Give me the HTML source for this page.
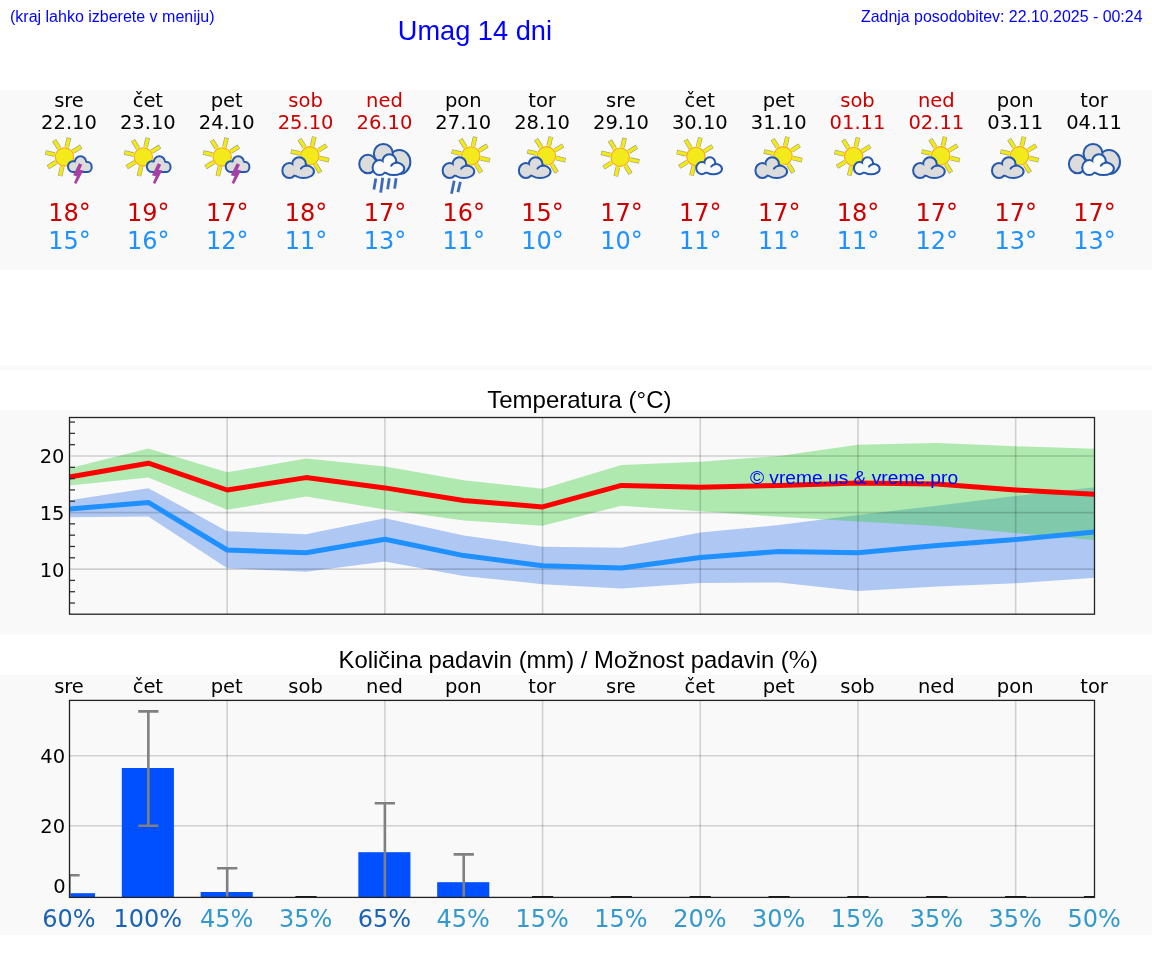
<!DOCTYPE html><html><head><meta charset="utf-8"><title>Umag 14 dni</title><style>html,body{margin:0;padding:0;background:#fff;}body{width:1152px;height:975px;overflow:hidden;position:relative;}svg{position:absolute;left:0;top:0;display:block;will-change:transform}.ls{font-family:"Liberation Sans",Arial,sans-serif}.dj{font-family:"DejaVu Sans",sans-serif}</style></head><body><svg width="1152" height="975" viewBox="0 0 1152 975"><text class="ls" x="10" y="22" font-size="16" fill="#0000ff">(kraj lahko izberete v meniju)</text><text class="ls" x="397.8" y="39.5" font-size="27.2" fill="#0000ff">Umag 14 dni</text><text class="ls" x="861" y="22" font-size="15.93" fill="#0000ff">Zadnja posodobitev: 22.10.2025 - 00:24</text><rect x="0" y="90" width="1152" height="180" fill="#f9f9f9"/><rect x="0" y="365" width="1152" height="5" fill="#f9f9f9"/><rect x="0" y="410" width="1152" height="225" fill="#f9f9f9"/><rect x="0" y="675" width="1152" height="260" fill="#f9f9f9"/><text class="dj" x="69.00" y="107" font-size="19.5" fill="#000" text-anchor="middle">sre</text><text class="dj" x="69.00" y="129" font-size="19.5" fill="#000" text-anchor="middle">22.10</text><text class="dj" x="69.50" y="221" font-size="24" fill="#cc0000" text-anchor="middle">18°</text><text class="dj" x="69.50" y="249" font-size="24" fill="#1e90ff" text-anchor="middle">15°</text><line x1="66.79" y1="146.96" x2="68.91" y2="137.80" stroke="#a0a088" stroke-width="4.6"/><line x1="59.09" y1="148.25" x2="54.11" y2="140.28" stroke="#a0a088" stroke-width="4.6"/><line x1="54.56" y1="154.61" x2="45.40" y2="152.49" stroke="#a0a088" stroke-width="4.6"/><line x1="55.85" y1="162.31" x2="47.88" y2="167.29" stroke="#a0a088" stroke-width="4.6"/><line x1="62.21" y1="166.84" x2="60.09" y2="176.00" stroke="#a0a088" stroke-width="4.6"/><line x1="73.15" y1="151.49" x2="81.12" y2="146.51" stroke="#a0a088" stroke-width="4.6"/><line x1="66.64" y1="147.64" x2="68.80" y2="138.29" stroke="#f2ea12" stroke-width="3.3"/><line x1="59.47" y1="148.84" x2="54.38" y2="140.70" stroke="#f2ea12" stroke-width="3.3"/><line x1="55.24" y1="154.76" x2="45.89" y2="152.60" stroke="#f2ea12" stroke-width="3.3"/><line x1="56.44" y1="161.93" x2="48.30" y2="167.02" stroke="#f2ea12" stroke-width="3.3"/><line x1="62.36" y1="166.16" x2="60.20" y2="175.51" stroke="#f2ea12" stroke-width="3.3"/><line x1="72.56" y1="151.87" x2="80.70" y2="146.78" stroke="#f2ea12" stroke-width="3.3"/><circle cx="64.50" cy="156.90" r="9.2" fill="#f2ea1a" stroke="#f6a623" stroke-width="1.1"/><path d="M69.00,166.55a4.00,4.35 0 1,1 8.00,0a4.00,4.35 0 1,1 -8.00,0ZM75.80,162.00a4.70,4.70 0 1,1 9.40,0a4.70,4.70 0 1,1 -9.40,0ZM84.70,167.00a3.00,3.90 0 1,1 6.00,0a3.00,3.90 0 1,1 -6.00,0ZM73.00,166.30h14.70v4.60h-14.70Z" fill="#2458ad" stroke="#2458ad" stroke-width="4" stroke-linejoin="round"/><path d="M69.00,166.55a4.00,4.35 0 1,1 8.00,0a4.00,4.35 0 1,1 -8.00,0ZM75.80,162.00a4.70,4.70 0 1,1 9.40,0a4.70,4.70 0 1,1 -9.40,0ZM84.70,167.00a3.00,3.90 0 1,1 6.00,0a3.00,3.90 0 1,1 -6.00,0ZM73.00,166.30h14.70v4.60h-14.70ZM72.50,165.80a8.00,4.50 0 1,1 16.00,0a8.00,4.50 0 1,1 -16.00,0Z" fill="#dcdcdc"/><polygon points="79.00,163.30 82.30,164.80 79.90,169.80 83.40,170.60 76.30,183.90 74.00,182.80 76.80,176.20 73.10,175.30" fill="#a541a3"/><text class="dj" x="147.85" y="107" font-size="19.5" fill="#000" text-anchor="middle">čet</text><text class="dj" x="147.85" y="129" font-size="19.5" fill="#000" text-anchor="middle">23.10</text><text class="dj" x="148.35" y="221" font-size="24" fill="#cc0000" text-anchor="middle">19°</text><text class="dj" x="148.35" y="249" font-size="24" fill="#1e90ff" text-anchor="middle">16°</text><line x1="145.64" y1="146.96" x2="147.76" y2="137.80" stroke="#a0a088" stroke-width="4.6"/><line x1="137.94" y1="148.25" x2="132.96" y2="140.28" stroke="#a0a088" stroke-width="4.6"/><line x1="133.41" y1="154.61" x2="124.25" y2="152.49" stroke="#a0a088" stroke-width="4.6"/><line x1="134.70" y1="162.31" x2="126.73" y2="167.29" stroke="#a0a088" stroke-width="4.6"/><line x1="141.06" y1="166.84" x2="138.94" y2="176.00" stroke="#a0a088" stroke-width="4.6"/><line x1="152.00" y1="151.49" x2="159.97" y2="146.51" stroke="#a0a088" stroke-width="4.6"/><line x1="145.49" y1="147.64" x2="147.65" y2="138.29" stroke="#f2ea12" stroke-width="3.3"/><line x1="138.32" y1="148.84" x2="133.23" y2="140.70" stroke="#f2ea12" stroke-width="3.3"/><line x1="134.09" y1="154.76" x2="124.74" y2="152.60" stroke="#f2ea12" stroke-width="3.3"/><line x1="135.29" y1="161.93" x2="127.15" y2="167.02" stroke="#f2ea12" stroke-width="3.3"/><line x1="141.21" y1="166.16" x2="139.05" y2="175.51" stroke="#f2ea12" stroke-width="3.3"/><line x1="151.41" y1="151.87" x2="159.55" y2="146.78" stroke="#f2ea12" stroke-width="3.3"/><circle cx="143.35" cy="156.90" r="9.2" fill="#f2ea1a" stroke="#f6a623" stroke-width="1.1"/><path d="M147.85,166.55a4.00,4.35 0 1,1 8.00,0a4.00,4.35 0 1,1 -8.00,0ZM154.65,162.00a4.70,4.70 0 1,1 9.40,0a4.70,4.70 0 1,1 -9.40,0ZM163.55,167.00a3.00,3.90 0 1,1 6.00,0a3.00,3.90 0 1,1 -6.00,0ZM151.85,166.30h14.70v4.60h-14.70Z" fill="#2458ad" stroke="#2458ad" stroke-width="4" stroke-linejoin="round"/><path d="M147.85,166.55a4.00,4.35 0 1,1 8.00,0a4.00,4.35 0 1,1 -8.00,0ZM154.65,162.00a4.70,4.70 0 1,1 9.40,0a4.70,4.70 0 1,1 -9.40,0ZM163.55,167.00a3.00,3.90 0 1,1 6.00,0a3.00,3.90 0 1,1 -6.00,0ZM151.85,166.30h14.70v4.60h-14.70ZM151.35,165.80a8.00,4.50 0 1,1 16.00,0a8.00,4.50 0 1,1 -16.00,0Z" fill="#dcdcdc"/><polygon points="157.85,163.30 161.15,164.80 158.75,169.80 162.25,170.60 155.15,183.90 152.85,182.80 155.65,176.20 151.95,175.30" fill="#a541a3"/><text class="dj" x="226.70" y="107" font-size="19.5" fill="#000" text-anchor="middle">pet</text><text class="dj" x="226.70" y="129" font-size="19.5" fill="#000" text-anchor="middle">24.10</text><text class="dj" x="227.20" y="221" font-size="24" fill="#cc0000" text-anchor="middle">17°</text><text class="dj" x="227.20" y="249" font-size="24" fill="#1e90ff" text-anchor="middle">12°</text><line x1="224.49" y1="146.96" x2="226.61" y2="137.80" stroke="#a0a088" stroke-width="4.6"/><line x1="216.79" y1="148.25" x2="211.81" y2="140.28" stroke="#a0a088" stroke-width="4.6"/><line x1="212.26" y1="154.61" x2="203.10" y2="152.49" stroke="#a0a088" stroke-width="4.6"/><line x1="213.55" y1="162.31" x2="205.58" y2="167.29" stroke="#a0a088" stroke-width="4.6"/><line x1="219.91" y1="166.84" x2="217.79" y2="176.00" stroke="#a0a088" stroke-width="4.6"/><line x1="230.85" y1="151.49" x2="238.82" y2="146.51" stroke="#a0a088" stroke-width="4.6"/><line x1="224.34" y1="147.64" x2="226.50" y2="138.29" stroke="#f2ea12" stroke-width="3.3"/><line x1="217.17" y1="148.84" x2="212.08" y2="140.70" stroke="#f2ea12" stroke-width="3.3"/><line x1="212.94" y1="154.76" x2="203.59" y2="152.60" stroke="#f2ea12" stroke-width="3.3"/><line x1="214.14" y1="161.93" x2="206.00" y2="167.02" stroke="#f2ea12" stroke-width="3.3"/><line x1="220.06" y1="166.16" x2="217.90" y2="175.51" stroke="#f2ea12" stroke-width="3.3"/><line x1="230.26" y1="151.87" x2="238.40" y2="146.78" stroke="#f2ea12" stroke-width="3.3"/><circle cx="222.20" cy="156.90" r="9.2" fill="#f2ea1a" stroke="#f6a623" stroke-width="1.1"/><path d="M226.70,166.55a4.00,4.35 0 1,1 8.00,0a4.00,4.35 0 1,1 -8.00,0ZM233.50,162.00a4.70,4.70 0 1,1 9.40,0a4.70,4.70 0 1,1 -9.40,0ZM242.40,167.00a3.00,3.90 0 1,1 6.00,0a3.00,3.90 0 1,1 -6.00,0ZM230.70,166.30h14.70v4.60h-14.70Z" fill="#2458ad" stroke="#2458ad" stroke-width="4" stroke-linejoin="round"/><path d="M226.70,166.55a4.00,4.35 0 1,1 8.00,0a4.00,4.35 0 1,1 -8.00,0ZM233.50,162.00a4.70,4.70 0 1,1 9.40,0a4.70,4.70 0 1,1 -9.40,0ZM242.40,167.00a3.00,3.90 0 1,1 6.00,0a3.00,3.90 0 1,1 -6.00,0ZM230.70,166.30h14.70v4.60h-14.70ZM230.20,165.80a8.00,4.50 0 1,1 16.00,0a8.00,4.50 0 1,1 -16.00,0Z" fill="#dcdcdc"/><polygon points="236.70,163.30 240.00,164.80 237.60,169.80 241.10,170.60 234.00,183.90 231.70,182.80 234.50,176.20 230.80,175.30" fill="#a541a3"/><text class="dj" x="305.55" y="107" font-size="19.5" fill="#cc0000" text-anchor="middle">sob</text><text class="dj" x="305.55" y="129" font-size="19.5" fill="#cc0000" text-anchor="middle">25.10</text><text class="dj" x="306.05" y="221" font-size="24" fill="#cc0000" text-anchor="middle">18°</text><text class="dj" x="306.05" y="249" font-size="24" fill="#1e90ff" text-anchor="middle">11°</text><line x1="312.19" y1="145.86" x2="314.31" y2="136.70" stroke="#a0a088" stroke-width="4.6"/><line x1="304.49" y1="147.15" x2="299.51" y2="139.18" stroke="#a0a088" stroke-width="4.6"/><line x1="299.96" y1="153.51" x2="290.80" y2="151.39" stroke="#a0a088" stroke-width="4.6"/><line x1="315.31" y1="164.45" x2="320.29" y2="172.42" stroke="#a0a088" stroke-width="4.6"/><line x1="319.84" y1="158.09" x2="329.00" y2="160.21" stroke="#a0a088" stroke-width="4.6"/><line x1="318.55" y1="150.39" x2="326.52" y2="145.41" stroke="#a0a088" stroke-width="4.6"/><line x1="312.04" y1="146.54" x2="314.20" y2="137.19" stroke="#f2ea12" stroke-width="3.3"/><line x1="304.87" y1="147.74" x2="299.78" y2="139.60" stroke="#f2ea12" stroke-width="3.3"/><line x1="300.64" y1="153.66" x2="291.29" y2="151.50" stroke="#f2ea12" stroke-width="3.3"/><line x1="314.93" y1="163.86" x2="320.02" y2="172.00" stroke="#f2ea12" stroke-width="3.3"/><line x1="319.16" y1="157.94" x2="328.51" y2="160.10" stroke="#f2ea12" stroke-width="3.3"/><line x1="317.96" y1="150.77" x2="326.10" y2="145.68" stroke="#f2ea12" stroke-width="3.3"/><circle cx="309.90" cy="155.80" r="9.2" fill="#f2ea1a" stroke="#f6a623" stroke-width="1.1"/><path d="M283.30,170.50a6.00,6.50 0 1,1 12.00,0a6.00,6.50 0 1,1 -12.00,0ZM293.30,164.00a5.80,5.80 0 1,1 11.60,0a5.80,5.80 0 1,1 -11.60,0ZM294.00,171.50a9.50,5.50 0 1,1 19.00,0a9.50,5.50 0 1,1 -19.00,0Z" fill="#2458ad" stroke="#2458ad" stroke-width="4" stroke-linejoin="round"/><path d="M283.30,170.50a6.00,6.50 0 1,1 12.00,0a6.00,6.50 0 1,1 -12.00,0ZM293.30,164.00a5.80,5.80 0 1,1 11.60,0a5.80,5.80 0 1,1 -11.60,0ZM294.00,171.50a9.50,5.50 0 1,1 19.00,0a9.50,5.50 0 1,1 -19.00,0ZM290.30,170.20a7.00,5.00 0 1,1 14.00,0a7.00,5.00 0 1,1 -14.00,0Z" fill="#dcdcdc"/><path d="M300.90,168.60 Q302.60,165.80 306.80,165.40" fill="none" stroke="#2458ad" stroke-width="2" stroke-linecap="round"/><text class="dj" x="384.40" y="107" font-size="19.5" fill="#cc0000" text-anchor="middle">ned</text><text class="dj" x="384.40" y="129" font-size="19.5" fill="#cc0000" text-anchor="middle">26.10</text><text class="dj" x="384.90" y="221" font-size="24" fill="#cc0000" text-anchor="middle">17°</text><text class="dj" x="384.90" y="249" font-size="24" fill="#1e90ff" text-anchor="middle">13°</text><ellipse cx="399.35" cy="162.00" rx="11.00" ry="12.00" fill="#dcdcdc" stroke="#2458ad" stroke-width="2"/><ellipse cx="383.35" cy="153.50" rx="9.50" ry="9.50" fill="#dcdcdc" stroke="#2458ad" stroke-width="2"/><ellipse cx="367.85" cy="164.00" rx="8.60" ry="9.20" fill="#dcdcdc" stroke="#2458ad" stroke-width="2"/><path d="M373.55,167.60a6.00,6.50 0 1,1 12.00,0a6.00,6.50 0 1,1 -12.00,0ZM383.55,161.10a5.80,5.80 0 1,1 11.60,0a5.80,5.80 0 1,1 -11.60,0ZM384.25,168.60a9.50,5.50 0 1,1 19.00,0a9.50,5.50 0 1,1 -19.00,0Z" fill="#2458ad" stroke="#2458ad" stroke-width="4" stroke-linejoin="round"/><path d="M373.55,167.60a6.00,6.50 0 1,1 12.00,0a6.00,6.50 0 1,1 -12.00,0ZM383.55,161.10a5.80,5.80 0 1,1 11.60,0a5.80,5.80 0 1,1 -11.60,0ZM384.25,168.60a9.50,5.50 0 1,1 19.00,0a9.50,5.50 0 1,1 -19.00,0ZM380.55,167.30a7.00,5.00 0 1,1 14.00,0a7.00,5.00 0 1,1 -14.00,0Z" fill="#fafafa"/><path d="M391.15,165.70 Q392.85,162.90 397.05,162.50" fill="none" stroke="#2458ad" stroke-width="2" stroke-linecap="round"/><line x1="375.80" y1="178.50" x2="373.90" y2="189.40" stroke="#3b6cbb" stroke-width="2.8"/><line x1="382.75" y1="177.80" x2="380.70" y2="192.60" stroke="#3b6cbb" stroke-width="2.8"/><line x1="389.30" y1="178.30" x2="387.60" y2="189.30" stroke="#3b6cbb" stroke-width="2.8"/><line x1="396.10" y1="178.30" x2="394.60" y2="188.60" stroke="#3b6cbb" stroke-width="2.8"/><text class="dj" x="463.25" y="107" font-size="19.5" fill="#000" text-anchor="middle">pon</text><text class="dj" x="463.25" y="129" font-size="19.5" fill="#000" text-anchor="middle">27.10</text><text class="dj" x="463.75" y="221" font-size="24" fill="#cc0000" text-anchor="middle">16°</text><text class="dj" x="463.75" y="249" font-size="24" fill="#1e90ff" text-anchor="middle">11°</text><line x1="473.09" y1="145.96" x2="475.21" y2="136.80" stroke="#a0a088" stroke-width="4.6"/><line x1="465.39" y1="147.25" x2="460.41" y2="139.28" stroke="#a0a088" stroke-width="4.6"/><line x1="460.86" y1="153.61" x2="451.70" y2="151.49" stroke="#a0a088" stroke-width="4.6"/><line x1="476.21" y1="164.55" x2="481.19" y2="172.52" stroke="#a0a088" stroke-width="4.6"/><line x1="480.74" y1="158.19" x2="489.90" y2="160.31" stroke="#a0a088" stroke-width="4.6"/><line x1="479.45" y1="150.49" x2="487.42" y2="145.51" stroke="#a0a088" stroke-width="4.6"/><line x1="472.94" y1="146.64" x2="475.10" y2="137.29" stroke="#f2ea12" stroke-width="3.3"/><line x1="465.77" y1="147.84" x2="460.68" y2="139.70" stroke="#f2ea12" stroke-width="3.3"/><line x1="461.54" y1="153.76" x2="452.19" y2="151.60" stroke="#f2ea12" stroke-width="3.3"/><line x1="475.83" y1="163.96" x2="480.92" y2="172.10" stroke="#f2ea12" stroke-width="3.3"/><line x1="480.06" y1="158.04" x2="489.41" y2="160.20" stroke="#f2ea12" stroke-width="3.3"/><line x1="478.86" y1="150.87" x2="487.00" y2="145.78" stroke="#f2ea12" stroke-width="3.3"/><circle cx="470.80" cy="155.90" r="9.2" fill="#f2ea1a" stroke="#f6a623" stroke-width="1.1"/><path d="M443.60,170.50a6.00,6.50 0 1,1 12.00,0a6.00,6.50 0 1,1 -12.00,0ZM453.60,164.00a5.80,5.80 0 1,1 11.60,0a5.80,5.80 0 1,1 -11.60,0ZM454.30,171.50a9.50,5.50 0 1,1 19.00,0a9.50,5.50 0 1,1 -19.00,0Z" fill="#2458ad" stroke="#2458ad" stroke-width="4" stroke-linejoin="round"/><path d="M443.60,170.50a6.00,6.50 0 1,1 12.00,0a6.00,6.50 0 1,1 -12.00,0ZM453.60,164.00a5.80,5.80 0 1,1 11.60,0a5.80,5.80 0 1,1 -11.60,0ZM454.30,171.50a9.50,5.50 0 1,1 19.00,0a9.50,5.50 0 1,1 -19.00,0ZM450.60,170.20a7.00,5.00 0 1,1 14.00,0a7.00,5.00 0 1,1 -14.00,0Z" fill="#dcdcdc"/><path d="M461.20,168.60 Q462.90,165.80 467.10,165.40" fill="none" stroke="#2458ad" stroke-width="2" stroke-linecap="round"/><line x1="454.20" y1="180.80" x2="451.50" y2="193.80" stroke="#3b6cbb" stroke-width="2.8"/><line x1="460.40" y1="181.80" x2="457.90" y2="192.20" stroke="#3b6cbb" stroke-width="2.8"/><text class="dj" x="542.10" y="107" font-size="19.5" fill="#000" text-anchor="middle">tor</text><text class="dj" x="542.10" y="129" font-size="19.5" fill="#000" text-anchor="middle">28.10</text><text class="dj" x="542.60" y="221" font-size="24" fill="#cc0000" text-anchor="middle">15°</text><text class="dj" x="542.60" y="249" font-size="24" fill="#1e90ff" text-anchor="middle">10°</text><line x1="548.74" y1="145.86" x2="550.86" y2="136.70" stroke="#a0a088" stroke-width="4.6"/><line x1="541.04" y1="147.15" x2="536.06" y2="139.18" stroke="#a0a088" stroke-width="4.6"/><line x1="536.51" y1="153.51" x2="527.35" y2="151.39" stroke="#a0a088" stroke-width="4.6"/><line x1="551.86" y1="164.45" x2="556.84" y2="172.42" stroke="#a0a088" stroke-width="4.6"/><line x1="556.39" y1="158.09" x2="565.55" y2="160.21" stroke="#a0a088" stroke-width="4.6"/><line x1="555.10" y1="150.39" x2="563.07" y2="145.41" stroke="#a0a088" stroke-width="4.6"/><line x1="548.59" y1="146.54" x2="550.75" y2="137.19" stroke="#f2ea12" stroke-width="3.3"/><line x1="541.42" y1="147.74" x2="536.33" y2="139.60" stroke="#f2ea12" stroke-width="3.3"/><line x1="537.19" y1="153.66" x2="527.84" y2="151.50" stroke="#f2ea12" stroke-width="3.3"/><line x1="551.48" y1="163.86" x2="556.57" y2="172.00" stroke="#f2ea12" stroke-width="3.3"/><line x1="555.71" y1="157.94" x2="565.06" y2="160.10" stroke="#f2ea12" stroke-width="3.3"/><line x1="554.51" y1="150.77" x2="562.65" y2="145.68" stroke="#f2ea12" stroke-width="3.3"/><circle cx="546.45" cy="155.80" r="9.2" fill="#f2ea1a" stroke="#f6a623" stroke-width="1.1"/><path d="M519.85,170.50a6.00,6.50 0 1,1 12.00,0a6.00,6.50 0 1,1 -12.00,0ZM529.85,164.00a5.80,5.80 0 1,1 11.60,0a5.80,5.80 0 1,1 -11.60,0ZM530.55,171.50a9.50,5.50 0 1,1 19.00,0a9.50,5.50 0 1,1 -19.00,0Z" fill="#2458ad" stroke="#2458ad" stroke-width="4" stroke-linejoin="round"/><path d="M519.85,170.50a6.00,6.50 0 1,1 12.00,0a6.00,6.50 0 1,1 -12.00,0ZM529.85,164.00a5.80,5.80 0 1,1 11.60,0a5.80,5.80 0 1,1 -11.60,0ZM530.55,171.50a9.50,5.50 0 1,1 19.00,0a9.50,5.50 0 1,1 -19.00,0ZM526.85,170.20a7.00,5.00 0 1,1 14.00,0a7.00,5.00 0 1,1 -14.00,0Z" fill="#dcdcdc"/><path d="M537.45,168.60 Q539.15,165.80 543.35,165.40" fill="none" stroke="#2458ad" stroke-width="2" stroke-linecap="round"/><text class="dj" x="620.95" y="107" font-size="19.5" fill="#000" text-anchor="middle">sre</text><text class="dj" x="620.95" y="129" font-size="19.5" fill="#000" text-anchor="middle">29.10</text><text class="dj" x="621.45" y="221" font-size="24" fill="#cc0000" text-anchor="middle">17°</text><text class="dj" x="621.45" y="249" font-size="24" fill="#1e90ff" text-anchor="middle">10°</text><line x1="622.49" y1="147.26" x2="624.61" y2="138.10" stroke="#a0a088" stroke-width="4.6"/><line x1="614.79" y1="148.55" x2="609.81" y2="140.58" stroke="#a0a088" stroke-width="4.6"/><line x1="610.26" y1="154.91" x2="601.10" y2="152.79" stroke="#a0a088" stroke-width="4.6"/><line x1="611.55" y1="162.61" x2="603.58" y2="167.59" stroke="#a0a088" stroke-width="4.6"/><line x1="617.91" y1="167.14" x2="615.79" y2="176.30" stroke="#a0a088" stroke-width="4.6"/><line x1="625.61" y1="165.85" x2="630.59" y2="173.82" stroke="#a0a088" stroke-width="4.6"/><line x1="630.14" y1="159.49" x2="639.30" y2="161.61" stroke="#a0a088" stroke-width="4.6"/><line x1="628.85" y1="151.79" x2="636.82" y2="146.81" stroke="#a0a088" stroke-width="4.6"/><line x1="622.34" y1="147.94" x2="624.50" y2="138.59" stroke="#f2ea12" stroke-width="3.3"/><line x1="615.17" y1="149.14" x2="610.08" y2="141.00" stroke="#f2ea12" stroke-width="3.3"/><line x1="610.94" y1="155.06" x2="601.59" y2="152.90" stroke="#f2ea12" stroke-width="3.3"/><line x1="612.14" y1="162.23" x2="604.00" y2="167.32" stroke="#f2ea12" stroke-width="3.3"/><line x1="618.06" y1="166.46" x2="615.90" y2="175.81" stroke="#f2ea12" stroke-width="3.3"/><line x1="625.23" y1="165.26" x2="630.32" y2="173.40" stroke="#f2ea12" stroke-width="3.3"/><line x1="629.46" y1="159.34" x2="638.81" y2="161.50" stroke="#f2ea12" stroke-width="3.3"/><line x1="628.26" y1="152.17" x2="636.40" y2="147.08" stroke="#f2ea12" stroke-width="3.3"/><circle cx="620.20" cy="157.20" r="9.2" fill="#f2ea1a" stroke="#f6a623" stroke-width="1.1"/><text class="dj" x="699.80" y="107" font-size="19.5" fill="#000" text-anchor="middle">čet</text><text class="dj" x="699.80" y="129" font-size="19.5" fill="#000" text-anchor="middle">30.10</text><text class="dj" x="700.30" y="221" font-size="24" fill="#cc0000" text-anchor="middle">17°</text><text class="dj" x="700.30" y="249" font-size="24" fill="#1e90ff" text-anchor="middle">11°</text><line x1="698.19" y1="146.56" x2="700.31" y2="137.40" stroke="#a0a088" stroke-width="4.6"/><line x1="690.49" y1="147.85" x2="685.51" y2="139.88" stroke="#a0a088" stroke-width="4.6"/><line x1="685.96" y1="154.21" x2="676.80" y2="152.09" stroke="#a0a088" stroke-width="4.6"/><line x1="687.25" y1="161.91" x2="679.28" y2="166.89" stroke="#a0a088" stroke-width="4.6"/><line x1="693.61" y1="166.44" x2="691.49" y2="175.60" stroke="#a0a088" stroke-width="4.6"/><line x1="704.55" y1="151.09" x2="712.52" y2="146.11" stroke="#a0a088" stroke-width="4.6"/><line x1="698.04" y1="147.24" x2="700.20" y2="137.89" stroke="#f2ea12" stroke-width="3.3"/><line x1="690.87" y1="148.44" x2="685.78" y2="140.30" stroke="#f2ea12" stroke-width="3.3"/><line x1="686.64" y1="154.36" x2="677.29" y2="152.20" stroke="#f2ea12" stroke-width="3.3"/><line x1="687.84" y1="161.53" x2="679.70" y2="166.62" stroke="#f2ea12" stroke-width="3.3"/><line x1="693.76" y1="165.76" x2="691.60" y2="175.11" stroke="#f2ea12" stroke-width="3.3"/><line x1="703.96" y1="151.47" x2="712.10" y2="146.38" stroke="#f2ea12" stroke-width="3.3"/><circle cx="695.90" cy="156.50" r="9.2" fill="#f2ea1a" stroke="#f6a623" stroke-width="1.1"/><path d="M697.21,168.08a4.67,5.08 0 1,1 9.34,0a4.67,5.08 0 1,1 -9.34,0ZM705.31,162.82a4.51,4.51 0 1,1 9.02,0a4.51,4.51 0 1,1 -9.02,0ZM705.88,168.89a7.51,4.27 0 1,1 15.01,0a7.51,4.27 0 1,1 -15.01,0Z" fill="#2458ad" stroke="#2458ad" stroke-width="4" stroke-linejoin="round"/><path d="M697.21,168.08a4.67,5.08 0 1,1 9.34,0a4.67,5.08 0 1,1 -9.34,0ZM705.31,162.82a4.51,4.51 0 1,1 9.02,0a4.51,4.51 0 1,1 -9.02,0ZM705.88,168.89a7.51,4.27 0 1,1 15.01,0a7.51,4.27 0 1,1 -15.01,0ZM702.69,167.84a5.67,4.05 0 1,1 11.34,0a5.67,4.05 0 1,1 -11.34,0Z" fill="#fafafa"/><path d="M711.28,166.54 Q712.65,164.28 716.05,163.95" fill="none" stroke="#2458ad" stroke-width="2" stroke-linecap="round"/><text class="dj" x="778.65" y="107" font-size="19.5" fill="#000" text-anchor="middle">pet</text><text class="dj" x="778.65" y="129" font-size="19.5" fill="#000" text-anchor="middle">31.10</text><text class="dj" x="779.15" y="221" font-size="24" fill="#cc0000" text-anchor="middle">17°</text><text class="dj" x="779.15" y="249" font-size="24" fill="#1e90ff" text-anchor="middle">11°</text><line x1="785.29" y1="145.86" x2="787.41" y2="136.70" stroke="#a0a088" stroke-width="4.6"/><line x1="777.59" y1="147.15" x2="772.61" y2="139.18" stroke="#a0a088" stroke-width="4.6"/><line x1="773.06" y1="153.51" x2="763.90" y2="151.39" stroke="#a0a088" stroke-width="4.6"/><line x1="788.41" y1="164.45" x2="793.39" y2="172.42" stroke="#a0a088" stroke-width="4.6"/><line x1="792.94" y1="158.09" x2="802.10" y2="160.21" stroke="#a0a088" stroke-width="4.6"/><line x1="791.65" y1="150.39" x2="799.62" y2="145.41" stroke="#a0a088" stroke-width="4.6"/><line x1="785.14" y1="146.54" x2="787.30" y2="137.19" stroke="#f2ea12" stroke-width="3.3"/><line x1="777.97" y1="147.74" x2="772.88" y2="139.60" stroke="#f2ea12" stroke-width="3.3"/><line x1="773.74" y1="153.66" x2="764.39" y2="151.50" stroke="#f2ea12" stroke-width="3.3"/><line x1="788.03" y1="163.86" x2="793.12" y2="172.00" stroke="#f2ea12" stroke-width="3.3"/><line x1="792.26" y1="157.94" x2="801.61" y2="160.10" stroke="#f2ea12" stroke-width="3.3"/><line x1="791.06" y1="150.77" x2="799.20" y2="145.68" stroke="#f2ea12" stroke-width="3.3"/><circle cx="783.00" cy="155.80" r="9.2" fill="#f2ea1a" stroke="#f6a623" stroke-width="1.1"/><path d="M756.40,170.50a6.00,6.50 0 1,1 12.00,0a6.00,6.50 0 1,1 -12.00,0ZM766.40,164.00a5.80,5.80 0 1,1 11.60,0a5.80,5.80 0 1,1 -11.60,0ZM767.10,171.50a9.50,5.50 0 1,1 19.00,0a9.50,5.50 0 1,1 -19.00,0Z" fill="#2458ad" stroke="#2458ad" stroke-width="4" stroke-linejoin="round"/><path d="M756.40,170.50a6.00,6.50 0 1,1 12.00,0a6.00,6.50 0 1,1 -12.00,0ZM766.40,164.00a5.80,5.80 0 1,1 11.60,0a5.80,5.80 0 1,1 -11.60,0ZM767.10,171.50a9.50,5.50 0 1,1 19.00,0a9.50,5.50 0 1,1 -19.00,0ZM763.40,170.20a7.00,5.00 0 1,1 14.00,0a7.00,5.00 0 1,1 -14.00,0Z" fill="#dcdcdc"/><path d="M774.00,168.60 Q775.70,165.80 779.90,165.40" fill="none" stroke="#2458ad" stroke-width="2" stroke-linecap="round"/><text class="dj" x="857.50" y="107" font-size="19.5" fill="#cc0000" text-anchor="middle">sob</text><text class="dj" x="857.50" y="129" font-size="19.5" fill="#cc0000" text-anchor="middle">01.11</text><text class="dj" x="858.00" y="221" font-size="24" fill="#cc0000" text-anchor="middle">18°</text><text class="dj" x="858.00" y="249" font-size="24" fill="#1e90ff" text-anchor="middle">11°</text><line x1="855.89" y1="146.56" x2="858.01" y2="137.40" stroke="#a0a088" stroke-width="4.6"/><line x1="848.19" y1="147.85" x2="843.21" y2="139.88" stroke="#a0a088" stroke-width="4.6"/><line x1="843.66" y1="154.21" x2="834.50" y2="152.09" stroke="#a0a088" stroke-width="4.6"/><line x1="844.95" y1="161.91" x2="836.98" y2="166.89" stroke="#a0a088" stroke-width="4.6"/><line x1="851.31" y1="166.44" x2="849.19" y2="175.60" stroke="#a0a088" stroke-width="4.6"/><line x1="862.25" y1="151.09" x2="870.22" y2="146.11" stroke="#a0a088" stroke-width="4.6"/><line x1="855.74" y1="147.24" x2="857.90" y2="137.89" stroke="#f2ea12" stroke-width="3.3"/><line x1="848.57" y1="148.44" x2="843.48" y2="140.30" stroke="#f2ea12" stroke-width="3.3"/><line x1="844.34" y1="154.36" x2="834.99" y2="152.20" stroke="#f2ea12" stroke-width="3.3"/><line x1="845.54" y1="161.53" x2="837.40" y2="166.62" stroke="#f2ea12" stroke-width="3.3"/><line x1="851.46" y1="165.76" x2="849.30" y2="175.11" stroke="#f2ea12" stroke-width="3.3"/><line x1="861.66" y1="151.47" x2="869.80" y2="146.38" stroke="#f2ea12" stroke-width="3.3"/><circle cx="853.60" cy="156.50" r="9.2" fill="#f2ea1a" stroke="#f6a623" stroke-width="1.1"/><path d="M854.91,168.08a4.67,5.08 0 1,1 9.34,0a4.67,5.08 0 1,1 -9.34,0ZM863.01,162.82a4.51,4.51 0 1,1 9.02,0a4.51,4.51 0 1,1 -9.02,0ZM863.58,168.89a7.51,4.27 0 1,1 15.01,0a7.51,4.27 0 1,1 -15.01,0Z" fill="#2458ad" stroke="#2458ad" stroke-width="4" stroke-linejoin="round"/><path d="M854.91,168.08a4.67,5.08 0 1,1 9.34,0a4.67,5.08 0 1,1 -9.34,0ZM863.01,162.82a4.51,4.51 0 1,1 9.02,0a4.51,4.51 0 1,1 -9.02,0ZM863.58,168.89a7.51,4.27 0 1,1 15.01,0a7.51,4.27 0 1,1 -15.01,0ZM860.39,167.84a5.67,4.05 0 1,1 11.34,0a5.67,4.05 0 1,1 -11.34,0Z" fill="#fafafa"/><path d="M868.98,166.54 Q870.35,164.28 873.75,163.95" fill="none" stroke="#2458ad" stroke-width="2" stroke-linecap="round"/><text class="dj" x="936.35" y="107" font-size="19.5" fill="#cc0000" text-anchor="middle">ned</text><text class="dj" x="936.35" y="129" font-size="19.5" fill="#cc0000" text-anchor="middle">02.11</text><text class="dj" x="936.85" y="221" font-size="24" fill="#cc0000" text-anchor="middle">17°</text><text class="dj" x="936.85" y="249" font-size="24" fill="#1e90ff" text-anchor="middle">12°</text><line x1="942.99" y1="145.86" x2="945.11" y2="136.70" stroke="#a0a088" stroke-width="4.6"/><line x1="935.29" y1="147.15" x2="930.31" y2="139.18" stroke="#a0a088" stroke-width="4.6"/><line x1="930.76" y1="153.51" x2="921.60" y2="151.39" stroke="#a0a088" stroke-width="4.6"/><line x1="946.11" y1="164.45" x2="951.09" y2="172.42" stroke="#a0a088" stroke-width="4.6"/><line x1="950.64" y1="158.09" x2="959.80" y2="160.21" stroke="#a0a088" stroke-width="4.6"/><line x1="949.35" y1="150.39" x2="957.32" y2="145.41" stroke="#a0a088" stroke-width="4.6"/><line x1="942.84" y1="146.54" x2="945.00" y2="137.19" stroke="#f2ea12" stroke-width="3.3"/><line x1="935.67" y1="147.74" x2="930.58" y2="139.60" stroke="#f2ea12" stroke-width="3.3"/><line x1="931.44" y1="153.66" x2="922.09" y2="151.50" stroke="#f2ea12" stroke-width="3.3"/><line x1="945.73" y1="163.86" x2="950.82" y2="172.00" stroke="#f2ea12" stroke-width="3.3"/><line x1="949.96" y1="157.94" x2="959.31" y2="160.10" stroke="#f2ea12" stroke-width="3.3"/><line x1="948.76" y1="150.77" x2="956.90" y2="145.68" stroke="#f2ea12" stroke-width="3.3"/><circle cx="940.70" cy="155.80" r="9.2" fill="#f2ea1a" stroke="#f6a623" stroke-width="1.1"/><path d="M914.10,170.50a6.00,6.50 0 1,1 12.00,0a6.00,6.50 0 1,1 -12.00,0ZM924.10,164.00a5.80,5.80 0 1,1 11.60,0a5.80,5.80 0 1,1 -11.60,0ZM924.80,171.50a9.50,5.50 0 1,1 19.00,0a9.50,5.50 0 1,1 -19.00,0Z" fill="#2458ad" stroke="#2458ad" stroke-width="4" stroke-linejoin="round"/><path d="M914.10,170.50a6.00,6.50 0 1,1 12.00,0a6.00,6.50 0 1,1 -12.00,0ZM924.10,164.00a5.80,5.80 0 1,1 11.60,0a5.80,5.80 0 1,1 -11.60,0ZM924.80,171.50a9.50,5.50 0 1,1 19.00,0a9.50,5.50 0 1,1 -19.00,0ZM921.10,170.20a7.00,5.00 0 1,1 14.00,0a7.00,5.00 0 1,1 -14.00,0Z" fill="#dcdcdc"/><path d="M931.70,168.60 Q933.40,165.80 937.60,165.40" fill="none" stroke="#2458ad" stroke-width="2" stroke-linecap="round"/><text class="dj" x="1015.20" y="107" font-size="19.5" fill="#000" text-anchor="middle">pon</text><text class="dj" x="1015.20" y="129" font-size="19.5" fill="#000" text-anchor="middle">03.11</text><text class="dj" x="1015.70" y="221" font-size="24" fill="#cc0000" text-anchor="middle">17°</text><text class="dj" x="1015.70" y="249" font-size="24" fill="#1e90ff" text-anchor="middle">13°</text><line x1="1021.84" y1="145.86" x2="1023.96" y2="136.70" stroke="#a0a088" stroke-width="4.6"/><line x1="1014.14" y1="147.15" x2="1009.16" y2="139.18" stroke="#a0a088" stroke-width="4.6"/><line x1="1009.61" y1="153.51" x2="1000.45" y2="151.39" stroke="#a0a088" stroke-width="4.6"/><line x1="1024.96" y1="164.45" x2="1029.94" y2="172.42" stroke="#a0a088" stroke-width="4.6"/><line x1="1029.49" y1="158.09" x2="1038.65" y2="160.21" stroke="#a0a088" stroke-width="4.6"/><line x1="1028.20" y1="150.39" x2="1036.17" y2="145.41" stroke="#a0a088" stroke-width="4.6"/><line x1="1021.69" y1="146.54" x2="1023.85" y2="137.19" stroke="#f2ea12" stroke-width="3.3"/><line x1="1014.52" y1="147.74" x2="1009.43" y2="139.60" stroke="#f2ea12" stroke-width="3.3"/><line x1="1010.29" y1="153.66" x2="1000.94" y2="151.50" stroke="#f2ea12" stroke-width="3.3"/><line x1="1024.58" y1="163.86" x2="1029.67" y2="172.00" stroke="#f2ea12" stroke-width="3.3"/><line x1="1028.81" y1="157.94" x2="1038.16" y2="160.10" stroke="#f2ea12" stroke-width="3.3"/><line x1="1027.61" y1="150.77" x2="1035.75" y2="145.68" stroke="#f2ea12" stroke-width="3.3"/><circle cx="1019.55" cy="155.80" r="9.2" fill="#f2ea1a" stroke="#f6a623" stroke-width="1.1"/><path d="M992.95,170.50a6.00,6.50 0 1,1 12.00,0a6.00,6.50 0 1,1 -12.00,0ZM1002.95,164.00a5.80,5.80 0 1,1 11.60,0a5.80,5.80 0 1,1 -11.60,0ZM1003.65,171.50a9.50,5.50 0 1,1 19.00,0a9.50,5.50 0 1,1 -19.00,0Z" fill="#2458ad" stroke="#2458ad" stroke-width="4" stroke-linejoin="round"/><path d="M992.95,170.50a6.00,6.50 0 1,1 12.00,0a6.00,6.50 0 1,1 -12.00,0ZM1002.95,164.00a5.80,5.80 0 1,1 11.60,0a5.80,5.80 0 1,1 -11.60,0ZM1003.65,171.50a9.50,5.50 0 1,1 19.00,0a9.50,5.50 0 1,1 -19.00,0ZM999.95,170.20a7.00,5.00 0 1,1 14.00,0a7.00,5.00 0 1,1 -14.00,0Z" fill="#dcdcdc"/><path d="M1010.55,168.60 Q1012.25,165.80 1016.45,165.40" fill="none" stroke="#2458ad" stroke-width="2" stroke-linecap="round"/><text class="dj" x="1094.05" y="107" font-size="19.5" fill="#000" text-anchor="middle">tor</text><text class="dj" x="1094.05" y="129" font-size="19.5" fill="#000" text-anchor="middle">04.11</text><text class="dj" x="1094.55" y="221" font-size="24" fill="#cc0000" text-anchor="middle">17°</text><text class="dj" x="1094.55" y="249" font-size="24" fill="#1e90ff" text-anchor="middle">13°</text><ellipse cx="1109.00" cy="162.00" rx="11.00" ry="12.00" fill="#dcdcdc" stroke="#2458ad" stroke-width="2"/><ellipse cx="1093.00" cy="153.50" rx="9.50" ry="9.50" fill="#dcdcdc" stroke="#2458ad" stroke-width="2"/><ellipse cx="1077.50" cy="164.00" rx="8.60" ry="9.20" fill="#dcdcdc" stroke="#2458ad" stroke-width="2"/><path d="M1083.20,167.60a6.00,6.50 0 1,1 12.00,0a6.00,6.50 0 1,1 -12.00,0ZM1093.20,161.10a5.80,5.80 0 1,1 11.60,0a5.80,5.80 0 1,1 -11.60,0ZM1093.90,168.60a9.50,5.50 0 1,1 19.00,0a9.50,5.50 0 1,1 -19.00,0Z" fill="#2458ad" stroke="#2458ad" stroke-width="4" stroke-linejoin="round"/><path d="M1083.20,167.60a6.00,6.50 0 1,1 12.00,0a6.00,6.50 0 1,1 -12.00,0ZM1093.20,161.10a5.80,5.80 0 1,1 11.60,0a5.80,5.80 0 1,1 -11.60,0ZM1093.90,168.60a9.50,5.50 0 1,1 19.00,0a9.50,5.50 0 1,1 -19.00,0ZM1090.20,167.30a7.00,5.00 0 1,1 14.00,0a7.00,5.00 0 1,1 -14.00,0Z" fill="#fafafa"/><path d="M1100.80,165.70 Q1102.50,162.90 1106.70,162.50" fill="none" stroke="#2458ad" stroke-width="2" stroke-linecap="round"/><text class="ls" x="487.2" y="408" font-size="24" fill="#000">Temperatura (°C)</text><defs><clipPath id="cp1"><rect x="69.5" y="417.5" width="1025" height="196.7"/></clipPath><clipPath id="cp2"><rect x="69.5" y="700.4" width="1025" height="197"/></clipPath></defs><g clip-path="url(#cp1)"><polygon points="69.50,500.20 148.35,488.20 227.19,531.20 306.04,534.30 384.88,518.30 463.73,535.60 542.58,546.70 621.42,547.80 700.27,532.50 779.11,525.10 857.96,514.90 936.81,505.70 1015.65,496.00 1094.50,487.30 1094.50,577.80 1015.65,583.30 936.81,586.60 857.96,591.00 779.11,582.40 700.27,582.90 621.42,588.40 542.58,584.20 463.73,575.90 384.88,561.50 306.04,571.80 227.19,568.30 148.35,516.40 69.50,517.30" fill="#6495ed" fill-opacity="0.5"/><polygon points="69.50,468.20 148.35,448.50 227.19,472.30 306.04,458.60 384.88,466.60 463.73,480.20 542.58,488.70 621.42,465.10 700.27,461.80 779.11,455.90 857.96,444.80 936.81,442.90 1015.65,446.30 1094.50,448.80 1094.50,539.90 1015.65,533.00 936.81,526.00 857.96,521.40 779.11,516.80 700.27,511.30 621.42,505.70 542.58,525.70 463.73,520.50 384.88,509.40 306.04,496.50 227.19,509.80 148.35,477.60 69.50,485.40" fill="#32cd32" fill-opacity="0.37"/><line x1="69.5" x2="1094.5" y1="456.0" y2="456.0" stroke="#000" stroke-opacity="0.16" stroke-width="1.6"/><line x1="69.5" x2="1094.5" y1="512.6" y2="512.6" stroke="#000" stroke-opacity="0.16" stroke-width="1.6"/><line x1="69.5" x2="1094.5" y1="569.1" y2="569.1" stroke="#000" stroke-opacity="0.16" stroke-width="1.6"/><line x1="227.19" x2="227.19" y1="417" y2="614" stroke="#000" stroke-opacity="0.16" stroke-width="1.6"/><line x1="384.88" x2="384.88" y1="417" y2="614" stroke="#000" stroke-opacity="0.16" stroke-width="1.6"/><line x1="542.58" x2="542.58" y1="417" y2="614" stroke="#000" stroke-opacity="0.16" stroke-width="1.6"/><line x1="700.27" x2="700.27" y1="417" y2="614" stroke="#000" stroke-opacity="0.16" stroke-width="1.6"/><line x1="857.96" x2="857.96" y1="417" y2="614" stroke="#000" stroke-opacity="0.16" stroke-width="1.6"/><line x1="1015.65" x2="1015.65" y1="417" y2="614" stroke="#000" stroke-opacity="0.16" stroke-width="1.6"/><polyline points="69.50,477.00 148.35,463.20 227.19,490.00 306.04,477.60 384.88,487.90 463.73,500.50 542.58,506.90 621.42,485.40 700.27,487.20 779.11,485.40 857.96,483.00 936.81,483.90 1015.65,490.00 1094.50,494.30" fill="none" stroke="#ff0000" stroke-width="5" stroke-linejoin="round"/><polyline points="69.50,509.00 148.35,502.40 227.19,550.00 306.04,552.80 384.88,539.30 463.73,555.60 542.58,565.70 621.42,568.10 700.27,557.40 779.11,551.50 857.96,552.80 936.81,545.40 1015.65,539.50 1094.50,532.00" fill="none" stroke="#1e90ff" stroke-width="5" stroke-linejoin="round"/></g><line x1="69.5" x2="75" y1="603.03" y2="603.03" stroke="#333" stroke-width="1.3"/><line x1="69.5" x2="75" y1="591.72" y2="591.72" stroke="#333" stroke-width="1.3"/><line x1="69.5" x2="75" y1="580.41" y2="580.41" stroke="#333" stroke-width="1.3"/><line x1="69.5" x2="75" y1="557.79" y2="557.79" stroke="#333" stroke-width="1.3"/><line x1="69.5" x2="75" y1="546.48" y2="546.48" stroke="#333" stroke-width="1.3"/><line x1="69.5" x2="75" y1="535.17" y2="535.17" stroke="#333" stroke-width="1.3"/><line x1="69.5" x2="75" y1="523.86" y2="523.86" stroke="#333" stroke-width="1.3"/><line x1="69.5" x2="75" y1="501.24" y2="501.24" stroke="#333" stroke-width="1.3"/><line x1="69.5" x2="75" y1="489.93" y2="489.93" stroke="#333" stroke-width="1.3"/><line x1="69.5" x2="75" y1="478.62" y2="478.62" stroke="#333" stroke-width="1.3"/><line x1="69.5" x2="75" y1="467.31" y2="467.31" stroke="#333" stroke-width="1.3"/><line x1="69.5" x2="75" y1="444.69" y2="444.69" stroke="#333" stroke-width="1.3"/><line x1="69.5" x2="75" y1="433.38" y2="433.38" stroke="#333" stroke-width="1.3"/><line x1="69.5" x2="75" y1="422.07" y2="422.07" stroke="#333" stroke-width="1.3"/><rect x="69.5" y="417.5" width="1025" height="196.7" fill="none" stroke="#222" stroke-width="1.3"/><text class="dj" x="64.5" y="463.4" font-size="19.5" fill="#000" text-anchor="end">20</text><text class="dj" x="64.5" y="520.0" font-size="19.5" fill="#000" text-anchor="end">15</text><text class="dj" x="64.5" y="576.5" font-size="19.5" fill="#000" text-anchor="end">10</text><text class="ls" x="749.9" y="483.5" font-size="19.2" fill="#0000ff">© vreme.us &amp; vreme.pro</text><text class="ls" x="338.5" y="668" font-size="23.83" fill="#000">Količina padavin (mm) / Možnost padavin (<tspan font-family="Liberation Serif, serif" font-size="25.5">%</tspan>)</text><text class="dj" x="69.00" y="692.5" font-size="19.5" fill="#000" text-anchor="middle">sre</text><text class="dj" x="147.85" y="692.5" font-size="19.5" fill="#000" text-anchor="middle">čet</text><text class="dj" x="226.70" y="692.5" font-size="19.5" fill="#000" text-anchor="middle">pet</text><text class="dj" x="305.55" y="692.5" font-size="19.5" fill="#000" text-anchor="middle">sob</text><text class="dj" x="384.40" y="692.5" font-size="19.5" fill="#000" text-anchor="middle">ned</text><text class="dj" x="463.25" y="692.5" font-size="19.5" fill="#000" text-anchor="middle">pon</text><text class="dj" x="542.10" y="692.5" font-size="19.5" fill="#000" text-anchor="middle">tor</text><text class="dj" x="620.95" y="692.5" font-size="19.5" fill="#000" text-anchor="middle">sre</text><text class="dj" x="699.80" y="692.5" font-size="19.5" fill="#000" text-anchor="middle">čet</text><text class="dj" x="778.65" y="692.5" font-size="19.5" fill="#000" text-anchor="middle">pet</text><text class="dj" x="857.50" y="692.5" font-size="19.5" fill="#000" text-anchor="middle">sob</text><text class="dj" x="936.35" y="692.5" font-size="19.5" fill="#000" text-anchor="middle">ned</text><text class="dj" x="1015.20" y="692.5" font-size="19.5" fill="#000" text-anchor="middle">pon</text><text class="dj" x="1094.05" y="692.5" font-size="19.5" fill="#000" text-anchor="middle">tor</text><g clip-path="url(#cp2)"><line x1="69.5" x2="1094.5" y1="755.8" y2="755.8" stroke="#000" stroke-opacity="0.16" stroke-width="1.6"/><line x1="69.5" x2="1094.5" y1="825.7" y2="825.7" stroke="#000" stroke-opacity="0.16" stroke-width="1.6"/><line x1="227.19" x2="227.19" y1="700" y2="897" stroke="#000" stroke-opacity="0.16" stroke-width="1.6"/><line x1="384.88" x2="384.88" y1="700" y2="897" stroke="#000" stroke-opacity="0.16" stroke-width="1.6"/><line x1="542.58" x2="542.58" y1="700" y2="897" stroke="#000" stroke-opacity="0.16" stroke-width="1.6"/><line x1="700.27" x2="700.27" y1="700" y2="897" stroke="#000" stroke-opacity="0.16" stroke-width="1.6"/><line x1="857.96" x2="857.96" y1="700" y2="897" stroke="#000" stroke-opacity="0.16" stroke-width="1.6"/><line x1="1015.65" x2="1015.65" y1="700" y2="897" stroke="#000" stroke-opacity="0.16" stroke-width="1.6"/><rect x="42.95" y="893.2" width="52.1" height="4.20" fill="#0050ff"/><rect x="121.80" y="768.0" width="52.1" height="129.40" fill="#0050ff"/><rect x="200.64" y="892.0" width="52.1" height="5.40" fill="#0050ff"/><rect x="358.33" y="852.2" width="52.1" height="45.20" fill="#0050ff"/><rect x="437.18" y="882.2" width="52.1" height="15.20" fill="#0050ff"/><line x1="69.50" x2="69.50" y1="875.3" y2="897.4" stroke="#808080" stroke-width="2.6"/><line x1="59.35" x2="79.65" y1="875.3" y2="875.3" stroke="#808080" stroke-width="2.6"/><line x1="148.35" x2="148.35" y1="711.4" y2="825.7" stroke="#808080" stroke-width="2.6"/><line x1="138.20" x2="158.50" y1="711.4" y2="711.4" stroke="#808080" stroke-width="2.6"/><line x1="138.35" x2="158.35" y1="825.7" y2="825.7" stroke="#808080" stroke-width="2.6"/><line x1="227.19" x2="227.19" y1="868.3" y2="897.4" stroke="#808080" stroke-width="2.6"/><line x1="217.04" x2="237.34" y1="868.3" y2="868.3" stroke="#808080" stroke-width="2.6"/><line x1="295.44" x2="316.64" y1="896.9" y2="896.9" stroke="#151515" stroke-width="1.7"/><line x1="384.88" x2="384.88" y1="803.3" y2="897.4" stroke="#808080" stroke-width="2.6"/><line x1="374.73" x2="395.03" y1="803.3" y2="803.3" stroke="#808080" stroke-width="2.6"/><line x1="463.73" x2="463.73" y1="854.4" y2="897.4" stroke="#808080" stroke-width="2.6"/><line x1="453.58" x2="473.88" y1="854.4" y2="854.4" stroke="#808080" stroke-width="2.6"/><line x1="531.98" x2="553.18" y1="896.9" y2="896.9" stroke="#151515" stroke-width="1.7"/><line x1="610.82" x2="632.02" y1="896.9" y2="896.9" stroke="#151515" stroke-width="1.7"/><line x1="689.67" x2="710.87" y1="896.9" y2="896.9" stroke="#151515" stroke-width="1.7"/><line x1="768.51" x2="789.71" y1="896.9" y2="896.9" stroke="#151515" stroke-width="1.7"/><line x1="847.36" x2="868.56" y1="896.9" y2="896.9" stroke="#151515" stroke-width="1.7"/><line x1="926.21" x2="947.41" y1="896.9" y2="896.9" stroke="#151515" stroke-width="1.7"/><line x1="1005.05" x2="1026.25" y1="896.9" y2="896.9" stroke="#151515" stroke-width="1.7"/><line x1="1083.90" x2="1105.10" y1="896.9" y2="896.9" stroke="#151515" stroke-width="1.7"/></g><rect x="69.5" y="700.4" width="1025" height="197" fill="none" stroke="#222" stroke-width="1.3"/><text class="dj" x="65.1" y="763.0" font-size="19.5" fill="#000" text-anchor="end">40</text><text class="dj" x="65.1" y="832.9" font-size="19.5" fill="#000" text-anchor="end">20</text><text class="dj" x="65.7" y="892.5" font-size="19.5" fill="#000" text-anchor="end">0</text><text class="dj" x="69.00" y="927" font-size="24" fill="#1a62b5" text-anchor="middle">60%</text><text class="dj" x="147.85" y="927" font-size="24" fill="#1a62b5" text-anchor="middle">100%</text><text class="dj" x="226.70" y="927" font-size="24" fill="#3399cc" text-anchor="middle">45%</text><text class="dj" x="305.55" y="927" font-size="24" fill="#3399cc" text-anchor="middle">35%</text><text class="dj" x="384.40" y="927" font-size="24" fill="#1a62b5" text-anchor="middle">65%</text><text class="dj" x="463.25" y="927" font-size="24" fill="#3399cc" text-anchor="middle">45%</text><text class="dj" x="542.10" y="927" font-size="24" fill="#3399cc" text-anchor="middle">15%</text><text class="dj" x="620.95" y="927" font-size="24" fill="#3399cc" text-anchor="middle">15%</text><text class="dj" x="699.80" y="927" font-size="24" fill="#3399cc" text-anchor="middle">20%</text><text class="dj" x="778.65" y="927" font-size="24" fill="#3399cc" text-anchor="middle">30%</text><text class="dj" x="857.50" y="927" font-size="24" fill="#3399cc" text-anchor="middle">15%</text><text class="dj" x="936.35" y="927" font-size="24" fill="#3399cc" text-anchor="middle">35%</text><text class="dj" x="1015.20" y="927" font-size="24" fill="#3399cc" text-anchor="middle">35%</text><text class="dj" x="1094.05" y="927" font-size="24" fill="#3399cc" text-anchor="middle">50%</text></svg></body></html>
